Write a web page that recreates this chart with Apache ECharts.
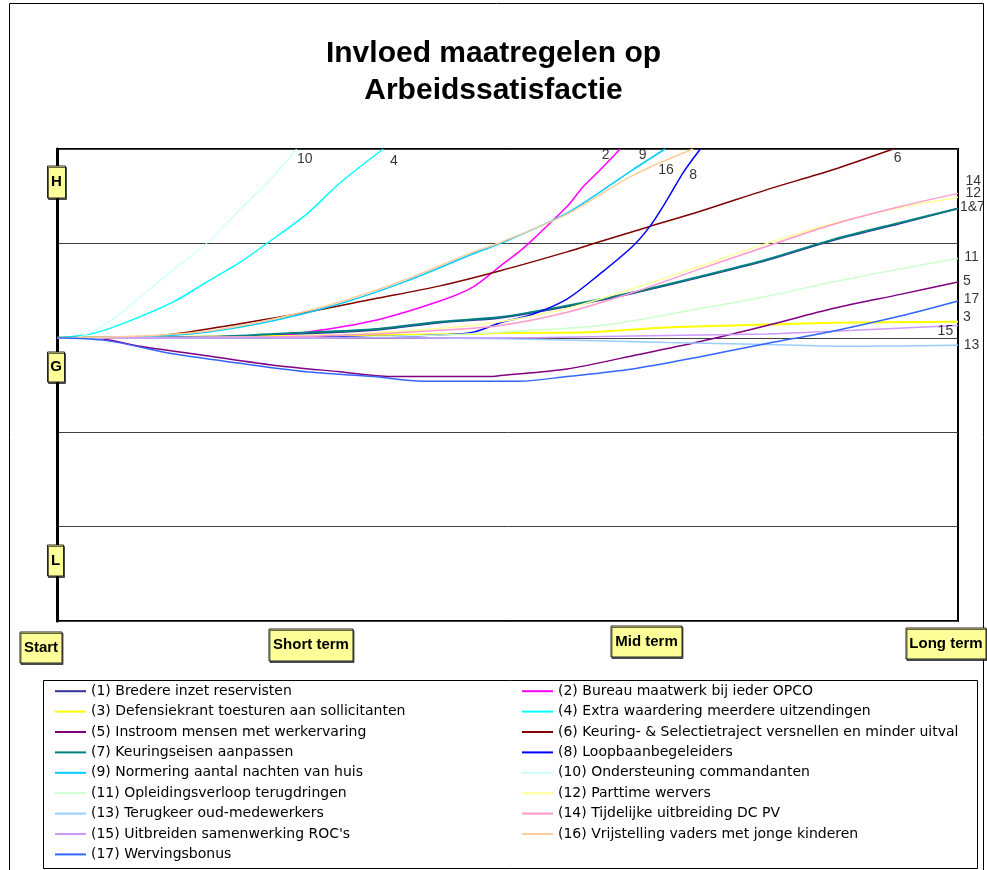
<!DOCTYPE html>
<html>
<head>
<meta charset="utf-8">
<script src="https://cdn.jsdelivr.net/npm/echarts@6/dist/echarts.min.js"></script>
<style>
html,body{margin:0;padding:0;background:#fff;}
#chart{width:987px;height:870px;}
</style>
</head>
<body>
<div id="chart"></div>
<script>
// ---- data ----
const titleText = 'Invloed maatregelen op\nArbeidssatisfactie';
const termLabels = ['Start', 'Short term', 'Mid term', 'Long term'];
const levelLabels = ['H', 'G', 'L'];
const seriesNames = [
  '(1) Bredere inzet reservisten',
  '(2) Bureau maatwerk bij ieder OPCO',
  '(3) Defensiekrant toesturen aan sollicitanten',
  '(4) Extra waardering meerdere uitzendingen',
  '(5) Instroom mensen met werkervaring',
  '(6) Keuring- & Selectietraject versnellen en minder uitval',
  '(7) Keuringseisen aanpassen',
  '(8) Loopbaanbegeleiders',
  '(9) Normering aantal nachten van huis',
  '(10) Ondersteuning commandanten',
  '(11) Opleidingsverloop terugdringen',
  '(12) Parttime wervers',
  '(13) Terugkeer oud-medewerkers',
  '(14) Tijdelijke uitbreiding DC PV',
  '(15) Uitbreiden samenwerking ROC\'s',
  '(16) Vrijstelling vaders met jonge kinderen',
  '(17) Wervingsbonus'
];
const s1 = [[0,3],[16.6,3.01],[24.0,3.03],[35.1,3.08],[42.5,3.16],[49.2,3.21],[56.6,3.33],[63.9,3.47],[71.4,3.64],[78.8,3.82],[86.1,4.03],[93.6,4.21],[100,4.37]];
const s2 = [[0,3],[22,3.01],[27.7,3.06],[35.1,3.18],[42.5,3.39],[46.2,3.54],[49.2,3.76],[51.4,3.92],[52.8,4.04],[56.6,4.39],[58.4,4.60],[60.3,4.78],[62.5,5.0]];
const s3 = [[0,3],[25.9,3.02],[46.2,3.04],[49.2,3.05],[58.8,3.06],[67.7,3.11],[78.8,3.14],[86.1,3.16],[100,3.17]];
const s4 = [[0,3],[3.7,3.04],[7.3,3.15],[12.9,3.38],[16.6,3.59],[20.3,3.80],[23.3,4.0],[27.7,4.31],[31.4,4.64],[36.2,5.0]];
const s5 = [[0,3],[3.7,3.0],[9.2,2.91],[16.6,2.81],[24.0,2.71],[31.4,2.64],[37.0,2.59],[48.1,2.59],[49.2,2.60],[56.6,2.67],[63.9,2.81],[71.4,2.96],[78.8,3.13],[86.1,3.31],[93.6,3.46],[100,3.59]];
const s6 = [[0,3],[11.1,3.02],[20.3,3.15],[27.7,3.27],[35.1,3.41],[42.5,3.55],[49.2,3.71],[56.6,3.91],[60.3,4.02],[65.8,4.18],[71.4,4.34],[78.8,4.57],[86.1,4.78],[92.8,5.0]];
const s7 = [[0,3],[16.6,3.01],[24.0,3.04],[35.1,3.09],[42.5,3.17],[49.2,3.22],[56.6,3.34],[63.9,3.48],[71.4,3.65],[78.8,3.83],[86.1,4.04],[93.6,4.22],[100,4.37]];
const s8 = [[0,3],[31.4,3.01],[42.5,3.03],[46.2,3.06],[49.2,3.16],[52.8,3.25],[56.6,3.41],[60.3,3.68],[63.9,3.97],[65.8,4.18],[67.7,4.46],[69.5,4.75],[71.4,5.0]];
const s9 = [[0,3],[9.2,3.01],[16.6,3.06],[24.0,3.18],[31.4,3.36],[38.8,3.60],[46.2,3.89],[49.2,4.00],[56.6,4.32],[63.9,4.78],[67.5,5.0]];
const s10 = [[0,3],[1.8,3.0],[5.5,3.15],[9.2,3.43],[12.9,3.72],[16.6,4.0],[20.3,4.36],[24.0,4.71],[26.6,5.0]];
const s11 = [[0,3],[27.7,3.0],[42.5,3.03],[49.2,3.06],[60.3,3.13],[71.4,3.31],[78.8,3.44],[86.1,3.59],[93.6,3.73],[100,3.84]];
const s12 = [[0,3],[24,3.01],[35.1,3.05],[42.5,3.10],[49.2,3.17],[56.6,3.31],[63.9,3.52],[71.4,3.76],[78.8,4.00],[86.1,4.21],[93.6,4.38],[100,4.49]];
const s13 = [[0,3],[38.8,3.0],[49.2,2.99],[54.7,2.98],[67.7,2.95],[78.8,2.93],[88.3,2.91],[100,2.92]];
const s14 = [[0,3],[24,3.01],[35.1,3.04],[42.5,3.08],[49.2,3.13],[56.6,3.27],[63.9,3.48],[71.4,3.73],[78.8,3.97],[86.1,4.20],[93.6,4.39],[100,4.53]];
const s15 = [[0,3],[49.2,3.0],[63.9,3.02],[78.8,3.04],[86.1,3.07],[100,3.13]];
const s16 = [[0,3],[9.2,3.02],[16.6,3.07],[24.0,3.20],[31.4,3.38],[38.8,3.62],[46.2,3.91],[49.2,4.01],[56.6,4.31],[63.9,4.72],[70.6,5.0]];
const s17 = [[0,3],[5.5,2.97],[12.9,2.83],[20.3,2.73],[27.7,2.64],[35.1,2.59],[40.6,2.54],[51.4,2.54],[56.6,2.59],[63.9,2.67],[71.4,2.80],[78.8,2.94],[86.1,3.07],[93.6,3.23],[100,3.39]];
const allSeries = [s1,s2,s3,s4,s5,s6,s7,s8,s9,s10,s11,s12,s13,s14,s15,s16,s17];
// curve end labels: [text, x, y]
const endLabels = [
  ['10',27.5,4.89],['4',37.4,4.87],['2',60.9,4.94],['9',65.0,4.94],['16',67.6,4.78],['8',70.6,4.72],
  ['6',93.3,4.90],['14',101.7,4.66],['12',101.7,4.53],['1&7',101.6,4.38],['11',101.5,3.85],
  ['5',101.0,3.60],['17',101.5,3.41],['3',101.0,3.22],['15',98.6,3.07],['13',101.5,2.92]
];

// ---- styles ----
const colors = ['#333399','#ff00ff','#ffff00','#00ffff','#800080','#800000','#008080','#0000ff',
  '#00ccff','#ccffff','#ccffcc','#ffff99','#99ccff','#ff99cc','#cc99ff','#ffcc99','#3366ff'];
const widths = [1.5,1.5,2,1.5,1.5,1.5,2,1.5,1.5,1.2,1.5,1.5,1.5,1.5,1.5,1.5,1.5];
const FONT = 'Arial, "Liberation Sans", sans-serif';
const LEGEND_FONT = '"DejaVu Sans", Arial, sans-serif';

const chart = echarts.init(document.getElementById('chart'), null, {renderer: 'canvas'});

const lineSeries = allSeries.map((d, i) => ({
  name: seriesNames[i],
  type: 'line',
  data: d,
  smooth: 0.3,
  symbol: 'none',
  clip: true,
  lineStyle: {color: colors[i], width: widths[i]},
  itemStyle: {color: colors[i]},
  z: 2
}));

const labelSeries = {
  name: 'labels',
  type: 'scatter',
  data: endLabels.map(l => ({name: l[0], value: [l[1], l[2]]})),
  symbolSize: 1,
  itemStyle: {color: 'rgba(0,0,0,0)'},
  clip: false,
  silent: true,
  z: 5,
  label: {show: true, position: 'inside', formatter: '{b}', color: '#000', fontSize: 14, fontFamily: FONT}
};

function box(cx, cy, w, h, text) {
  return {
    type: 'group', z: 100,
    children: [
      {type: 'rect', shape: {x: cx - w / 2, y: cy - h / 2, width: w, height: h},
        style: {fill: '#ffff99', stroke: '#222', lineWidth: 1, shadowColor: 'rgba(0,0,0,0.6)', shadowOffsetX: 1, shadowOffsetY: 1.5, shadowBlur: 0}, z: 100},
      {type: 'text', x: cx, y: cy, z: 101,
        style: {text: text, fill: '#000', font: 'bold 15px ' + FONT, align: 'center', verticalAlign: 'middle'}}
    ]
  };
}

const graphics = [
  {type: 'rect', shape: {x: 9.5, y: 3.5, width: 974, height: 880}, style: {fill: 'none', stroke: '#000', lineWidth: 1}, z: 0, silent: true},
  {type: 'rect', shape: {x: 43.5, y: 680.5, width: 934, height: 188}, style: {fill: 'none', stroke: '#000', lineWidth: 1}, z: 0, silent: true},
  box(41, 647.5, 42, 31, termLabels[0]),
  box(311, 645, 84, 32, termLabels[1]),
  box(646.5, 641.5, 71, 31, termLabels[2]),
  box(946, 643.5, 80, 31, termLabels[3]),
  box(56.5, 182, 18, 32, levelLabels[0]),
  box(56, 367, 17, 30, levelLabels[1]),
  box(55.5, 560.5, 16, 31, levelLabels[2])
];

const legendBase = {
  orient: 'vertical',
  top: 681,
  padding: 0,
  itemGap: 0,
  itemWidth: 31, itemHeight: 2,
  icon: 'rect',
  textStyle: {fontSize: 14, fontFamily: LEGEND_FONT, color: '#000', lineHeight: 20.4, height: 20.4},
  selectedMode: false
};

chart.setOption({
  animation: false,
  backgroundColor: '#fff',
  title: {
    text: titleText,
    left: 'center',
    top: 35,
    padding: 0,
    textStyle: {fontSize: 30, fontWeight: 'bold', fontFamily: FONT, color: '#000', lineHeight: 37}
  },
  grid: {
    left: 57, right: 29, top: 149, bottom: 249,
    show: true, borderColor: '#000', borderWidth: 2,
    outerBoundsMode: 'none'
  },
  xAxis: {
    type: 'value', min: 0, max: 100,
    axisLine: {show: false}, axisTick: {show: false}, axisLabel: {show: false}, splitLine: {show: false}
  },
  yAxis: {
    type: 'value', min: 0, max: 5, interval: 1,
    axisLine: {show: true, lineStyle: {color: '#000', width: 3}},
    axisTick: {show: false}, axisLabel: {show: false},
    splitLine: {show: true, lineStyle: {color: '#404040', width: 1}}
  },
  legend: [
    Object.assign({}, legendBase, {left: 55, data: seriesNames.filter((n, i) => i % 2 === 0)}),
    Object.assign({}, legendBase, {left: 522, data: seriesNames.filter((n, i) => i % 2 === 1)})
  ],
  graphic: graphics,
  series: lineSeries.concat([labelSeries])
});
</script>
</body>
</html>
